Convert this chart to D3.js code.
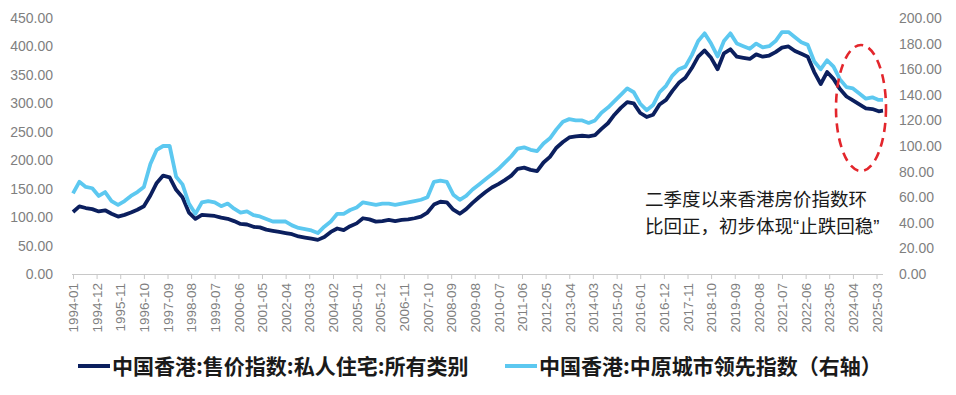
<!DOCTYPE html>
<html>
<head>
<meta charset="utf-8">
<script src="https://cdn.jsdelivr.net/npm/d3@7"></script>
<style>
  html, body { margin: 0; padding: 0; background: #fff; }
  svg { display: block; }
</style>
</head>
<body>
<div id="chart"></div>
<script>
// ---- data (roughly quarterly) ----
const months = [
  "1994-01","1994-04","1994-07","1994-10","1995-01","1995-04","1995-07","1995-10",
  "1996-01","1996-04","1996-07","1996-10","1997-01","1997-04","1997-07","1997-10",
  "1998-01","1998-04","1998-07","1998-10","1999-01","1999-04","1999-07","1999-10",
  "2000-01","2000-04","2000-07","2000-10","2001-01","2001-04","2001-07","2001-10",
  "2002-01","2002-04","2002-07","2002-10","2003-01","2003-04","2003-07","2003-10",
  "2004-01","2004-04","2004-07","2004-10","2005-01","2005-04","2005-07","2005-10",
  "2006-01","2006-04","2006-07","2006-10","2007-01","2007-04","2007-07","2007-10",
  "2008-01","2008-04","2008-07","2008-10","2009-01","2009-04","2009-07","2009-10",
  "2010-01","2010-04","2010-07","2010-10","2011-01","2011-04","2011-07","2011-10",
  "2012-01","2012-04","2012-07","2012-10","2013-01","2013-04","2013-07","2013-10",
  "2014-01","2014-04","2014-07","2014-10","2015-01","2015-04","2015-07","2015-10",
  "2016-01","2016-04","2016-07","2016-10","2017-01","2017-04","2017-07","2017-10",
  "2018-01","2018-04","2018-07","2018-10","2019-01","2019-04","2019-07","2019-10",
  "2020-01","2020-04","2020-07","2020-10","2021-01","2021-04","2021-07","2021-10",
  "2022-01","2022-04","2022-07","2022-10","2023-01","2023-04","2023-07","2023-10",
  "2024-01","2024-04","2024-07","2024-10","2025-01","2025-04","2025-06"
];

// 中国香港:售价指数:私人住宅:所有类别 (left axis)
const priceIndex = [
  109,119,116,114,110,112,106,101,
  104,108,113,119,138,160,173,170,
  148,135,108,97,104,103,102,99,
  97,93,88,87,83,82,78,76,
  74,72,70,66,64,62,60,65,
  74,80,77,84,89,98,96,92,
  93,95,93,95,96,98,101,108,
  122,127,126,113,106,114,125,135,
  144,152,158,165,173,185,187,183,
  181,196,206,222,232,240,242,243,
  242,244,255,265,280,292,302,300,
  283,276,280,298,306,322,336,345,
  362,382,393,380,360,388,395,382,
  380,378,386,382,384,390,398,400,
  392,387,382,355,334,355,343,325,
  312,305,298,291,290,286,287
];

// 中国香港:中原城市领先指数 (right axis)
const cclIndex = [
  63,72,68,67,61,64,57,54,
  57,61,64,68,86,97,100,100,
  76,70,55,47,56,57,56,53,
  55,51,48,49,46,45,43,41,
  41,41,38,36,35,34,32,37,
  41,47,47,50,52,56,55,54,
  55,55,54,55,56,57,58,60,
  72,73,72,62,58,61,66,70,
  74,78,82,87,92,98,99,97,
  96,102,106,113,119,121,120,120,
  118,120,126,130,135,140,145,142,
  133,128,132,142,147,155,160,162,
  171,182,188,180,170,182,188,180,
  178,176,180,177,178,182,189,189,
  185,181,179,166,160,167,162,152,
  146,145,141,137,138,136,136
];

const leftTicks = [0, 50, 100, 150, 200, 250, 300, 350, 400, 450];
const rightTicks = [0, 20, 40, 60, 80, 100, 120, 140, 160, 180, 200];

const seriesNames = ["中国香港:售价指数:私人住宅:所有类别", "中国香港:中原城市领先指数（右轴）"];
const noteLines = ["二季度以来香港房价指数环", "比回正，初步体现“止跌回稳”"];

// ---- chart ----
const W = 956, H = 395;
const darkBlue = "#0b1f5e", lightBlue = "#5cc8f0";
const axisGrey = "#7f7f7f";
const parse = d3.timeParse("%Y-%m");
const fmt = d3.timeFormat("%Y-%m");

const rows = months.map((m, i) => ({ date: parse(m), a: priceIndex[i], b: cclIndex[i] }));

const svg = d3.select("#chart").append("svg")
  .attr("width", W).attr("height", H);

const x = d3.scaleTime()
  .domain([parse("1994-01"), parse("2025-06")])
  .range([73, 883]);
const yL = d3.scaleLinear().domain([0, 450]).range([274, 18]);
const yR = d3.scaleLinear().domain([0, 200]).range([274, 18]);

// x ticks every 11 months from the first month
const xTicks = d3.timeMonth.every(1).range(parse("1994-01"), parse("2025-04"))
  .filter((d, i) => i % 11 === 0);

// x axis
const gx = svg.append("g").attr("transform", "translate(0,274)")
  .call(d3.axisBottom(x).tickValues(xTicks).tickFormat(fmt).tickSize(5).tickSizeOuter(0));
gx.select(".domain").attr("stroke", "#c8c8c8").attr("d", "M72,0.5H883");
gx.selectAll(".tick line").attr("stroke", "#c8c8c8");
gx.selectAll("text")
  .attr("fill", axisGrey)
  .attr("font-family", "Liberation Sans, Arial, sans-serif")
  .attr("font-size", 13.5)
  .attr("text-anchor", "end")
  .attr("transform", "rotate(-90)")
  .attr("x", -9).attr("y", 0).attr("dy", "0.35em");

// left axis
const gl = svg.append("g").attr("transform", "translate(56,0)")
  .call(d3.axisLeft(yL).tickValues(leftTicks).tickFormat(d3.format(".2f")).tickSize(0));
gl.select(".domain").remove();

// right axis
const gr = svg.append("g").attr("transform", "translate(896,0)")
  .call(d3.axisRight(yR).tickValues(rightTicks).tickFormat(d3.format(".2f")).tickSize(0));
gr.select(".domain").remove();

[gl, gr].forEach(g => g.selectAll("text")
  .attr("fill", axisGrey)
  .attr("font-family", "Liberation Sans, Arial, sans-serif")
  .attr("font-size", 14)
  .attr("dx", 0));

// lines
svg.append("path").datum(rows)
  .attr("fill", "none").attr("stroke", darkBlue).attr("stroke-width", 3.8)
  .attr("stroke-linejoin", "round")
  .attr("d", d3.line().x(d => x(d.date)).y(d => yL(d.a)));

svg.append("path").datum(rows)
  .attr("fill", "none").attr("stroke", lightBlue).attr("stroke-width", 3.8)
  .attr("stroke-linejoin", "round")
  .attr("d", d3.line().x(d => x(d.date)).y(d => yR(d.b)));

// red dashed ellipse
svg.append("ellipse")
  .attr("cx", 861).attr("cy", 108).attr("rx", 25).attr("ry", 63)
  .attr("fill", "none").attr("stroke", "#e3262c").attr("stroke-width", 2.6)
  .attr("stroke-dasharray", "9,6");

// annotation (latin font first so the quote marks stay narrow)
svg.append("text")
  .attr("font-family", "Liberation Sans, Noto Sans CJK SC, sans-serif")
  .attr("font-size", 18.5).attr("fill", "#1a1a1a")
  .selectAll("tspan").data(noteLines).join("tspan")
  .attr("x", 645).attr("y", (d, i) => 206 + i * 27)
  .text(d => d);

// legend
const legend = svg.append("g").attr("font-family", "Noto Sans CJK SC, sans-serif")
  .attr("font-size", 21).attr("font-weight", "bold").attr("fill", "#1a1a1a");
const legendX = [78, 505];
const legendColors = [darkBlue, lightBlue];
seriesNames.forEach((name, i) => {
  legend.append("line")
    .attr("x1", legendX[i]).attr("x2", legendX[i] + 32)
    .attr("y1", 366).attr("y2", 366)
    .attr("stroke", legendColors[i]).attr("stroke-width", 4);
  legend.append("text")
    .attr("x", legendX[i] + 34).attr("y", 373.5)
    .text(name);
});
</script>
</body>
</html>
